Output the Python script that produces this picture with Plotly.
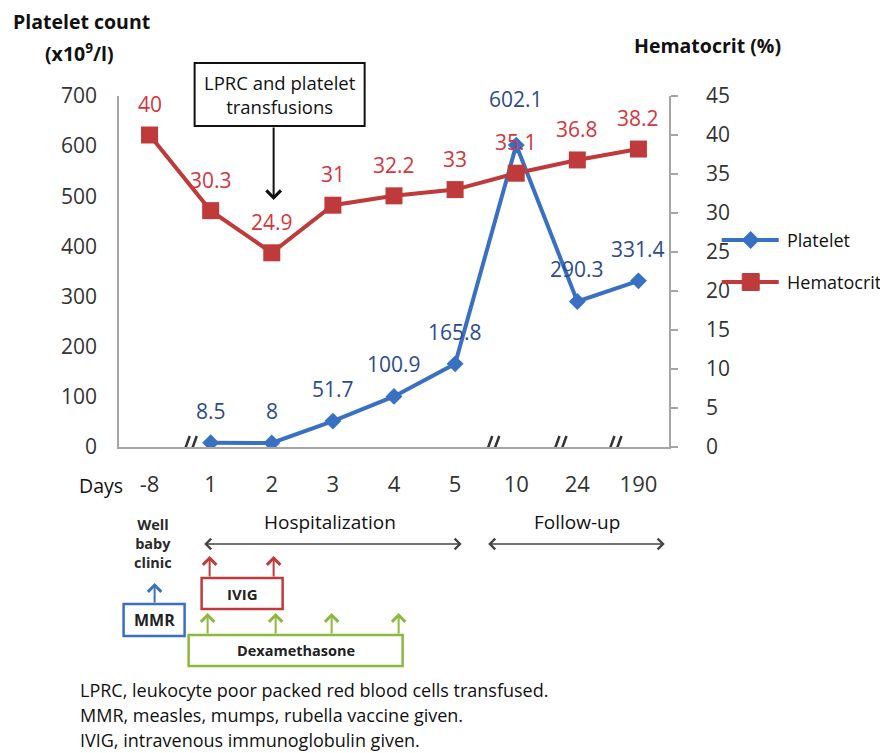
import plotly.graph_objects as go

# ---------------- data ----------------
days = ["-8", "1", "2", "3", "4", "5", "10", "24", "190"]
platelet = [None, 8.5, 8, 51.7, 100.9, 165.8, 602.1, 290.3, 331.4]
hematocrit = [40, 30.3, 24.9, 31, 32.2, 33, 35.1, 36.8, 38.2]
platelet_ticks = [0, 100, 200, 300, 400, 500, 600, 700]
hct_ticks = [0, 5, 10, 15, 20, 25, 30, 35, 40, 45]
break_positions = [0.65, 5.6, 6.7, 7.6]   # axis-break marks (category units)

FONT = "Open Sans"
BLUE = "#3A70C2"
BLUE_TXT = "#2D4B8C"
RED = "#BF3A3A"
RED_TXT = "#D5363D"
GREEN = "#8CB83F"
GRAY_AX = "#A6A6A6"
TXT = "#333333"

OFF = 8                      # page body margin
W, H = 888 - OFF, 753 - OFF
PX0, PX1 = 119.4, 669.3      # plot area in window pixels (x)
PYB, PYT = 447.0, 96.0       # plot area in window pixels (y bottom, top)


def px(x):
    return (x - PX0) / (PX1 - PX0)


def py(y):
    return (PYB - y) / (PYB - PYT)


def txt(x, y, text, size, color="#111", xanchor="center", **kw):
    return dict(x=px(x), y=py(y), xref="paper", yref="paper", text=text,
                showarrow=False, xanchor=xanchor, yanchor="middle",
                font=dict(family=FONT, size=size, color=color), **kw)


def arrow(xh, yh, xt, yt, color, width, size, both=False):
    d = dict(x=px(xh), y=py(yh), xref="paper", yref="paper", text="",
             xanchor="center", yanchor="middle",
             showarrow=True, ax=xt - xh, ay=yt - yh, arrowhead=4, arrowsize=size,
             arrowwidth=width, arrowcolor=color, standoff=0)
    if both:
        d.update(arrowside="end+start", startarrowhead=4, startarrowsize=size,
                 startstandoff=0)
    return d


fig = go.Figure()
fig.add_trace(go.Scatter(
    x=days, y=hematocrit, name="Hematocrit", yaxis="y2",
    mode="lines+markers",
    line=dict(color=RED, width=4),
    marker=dict(symbol="square", size=17, color=RED),
    showlegend=False,
))
fig.add_trace(go.Scatter(
    x=days, y=platelet, name="Platelet", yaxis="y",
    mode="lines+markers",
    line=dict(color=BLUE, width=4),
    marker=dict(symbol="diamond", size=13, color=BLUE),
    showlegend=False,
))

ann = []
# data labels (x given as category index)
for i, v in enumerate(hematocrit):
    ann.append(dict(x=i, y=v, xref="x", yref="y2", text=f"{v:g}", showarrow=False,
                    xanchor="center", yanchor="middle", yshift=31,
                    font=dict(family=FONT, size=21, color=RED_TXT)))
pmax = max(p for p in platelet if p is not None)
for i, v in enumerate(platelet):
    if v is None:
        continue
    ann.append(dict(x=i, y=v, xref="x", yref="y", text=f"{v:g}", showarrow=False,
                    xanchor="center", yanchor="middle",
                    yshift=46 if v == pmax else 32,
                    font=dict(family=FONT, size=21, color=BLUE_TXT)))

# axis titles
ann += [
    txt(82, 22, "<b>Platelet count</b>", 19.5),
    txt(80, 53, "<b>(x10<sup>9</sup>/l)</b>", 19.5),
    txt(708, 45, "<b>Hematocrit (%)</b>", 19.5),
    txt(125, 485, "Days", 19.5, xanchor="right"),
]

# legend (drawn manually to match long legend lines)
ann += [
    txt(785, 240, "Platelet", 18, xanchor="left"),
    txt(785, 282, "Hematocrit", 18, xanchor="left"),
]

# transfusion box + arrow
ann.append(txt(280, 95, "LPRC and platelet<br>transfusions", 18.5))
ann.append(arrow(274, 200, 274, 126, "#111", 2, 1.4))

# periods
ann += [
    txt(330, 522, "Hospitalization", 19),
    txt(577, 522, "Follow-up", 19),
    arrow(462, 544, 203, 544, "#444", 1.6, 1.3, both=True),
    arrow(665, 544, 487, 544, "#444", 1.6, 1.3, both=True),
]

# treatment texts
ann += [
    txt(153, 543, "<b>Well<br>baby<br>clinic</b>", 14.5, color="#2a2a2a", align="center"),
    txt(154.5, 620, "<b>MMR</b>", 16, color="#222"),
    txt(242.5, 593.5, "<b>IVIG</b>", 15, color="#222"),
    txt(296, 650.5, "<b>Dexamethasone</b>", 14.5, color="#222"),
]
# small up arrows
for xx, y0, y1, c in [(155, 604, 583, BLUE),
                      (210, 578, 556, RED), (274, 578, 556, RED),
                      (208, 635, 613, GREEN), (276, 635, 613, GREEN),
                      (332, 635, 613, GREEN), (399, 635, 613, GREEN)]:
    ann.append(arrow(xx, y1, xx, y0, c, 2, 1.3))

# footnotes
for i, t in enumerate(["LPRC, leukocyte poor packed red blood cells transfused.",
                       "MMR, measles, mumps, rubella vaccine given.",
                       "IVIG, intravenous immunoglobulin given."]):
    ann.append(txt(78, 690 + 25 * i, t, 18, xanchor="left"))

shapes = []
# boxes
for (x0, y0, x1, y1, c, w) in [(195, 63, 365, 126, "#111", 2),
                               (124, 604, 185, 636, BLUE, 2.5),
                               (202, 578, 283, 609, RED, 2.5),
                               (189, 635, 403, 666, GREEN, 2.5)]:
    shapes.append(dict(type="rect", xref="paper", yref="paper",
                       x0=px(x0), x1=px(x1), y0=py(y1), y1=py(y0),
                       line=dict(color=c, width=w), fillcolor="white", layer="below"))
# axis-break marks
for bp in break_positions:
    for o in (-3.5, 3.5):
        shapes.append(dict(type="line", xref="x", yref="y",
                           xsizemode="pixel", ysizemode="pixel",
                           xanchor=bp, yanchor=0,
                           x0=o - 4, x1=o + 4, y0=-11, y1=11,
                           line=dict(color="#333", width=2.5), layer="above"))
# legend keys
for yy, c in [(240, BLUE), (282, RED)]:
    shapes.append(dict(type="line", xref="paper", yref="paper",
                       x0=px(722), x1=px(779), y0=py(yy), y1=py(yy),
                       line=dict(color=c, width=4)))
shapes.append(dict(type="path", xref="paper", yref="paper",
                   xsizemode="pixel", ysizemode="pixel",
                   xanchor=px(751), yanchor=py(240),
                   path="M -8.5,0 L 0,8.5 L 8.5,0 L 0,-8.5 Z",
                   fillcolor=BLUE, line=dict(color=BLUE, width=1)))
shapes.append(dict(type="rect", xref="paper", yref="paper",
                   xsizemode="pixel", ysizemode="pixel",
                   xanchor=px(751), yanchor=py(282),
                   x0=-8.5, x1=8.5, y0=-8.5, y1=8.5,
                   fillcolor=RED, line=dict(color=RED, width=1)))

fig.update_layout(
    width=W, height=H,
    margin=dict(l=PX0 - OFF, r=W - (PX1 - OFF), t=PYT - OFF, b=H - (PYB - OFF), pad=0),
    paper_bgcolor="white", plot_bgcolor="white",
    font=dict(family=FONT, color=TXT),
    showlegend=False,
    xaxis=dict(type="category", range=[-0.5, 8.5], showgrid=False, zeroline=False,
               showline=True, linecolor=GRAY_AX, linewidth=2, ticks="",
               tickfont=dict(family=FONT, size=22, color=TXT), ticklabelstandoff=17),
    yaxis=dict(range=[0, 700], tickvals=platelet_ticks, showgrid=False, zeroline=False,
               showline=True, linecolor=GRAY_AX, linewidth=1.5, ticks="",
               tickfont=dict(family=FONT, size=21, color=TXT), ticklabelstandoff=16),
    yaxis2=dict(range=[0, 45], tickvals=hct_ticks, overlaying="y", side="right",
                showgrid=False, zeroline=False, showline=True, linecolor=GRAY_AX,
                linewidth=1.5, ticks="outside", ticklen=7, tickcolor=GRAY_AX,
                tickwidth=1.5, tickfont=dict(family=FONT, size=21, color=TXT),
                ticklabelstandoff=24),
    annotations=ann,
    shapes=shapes,
)

fig.write_html("out.html")
